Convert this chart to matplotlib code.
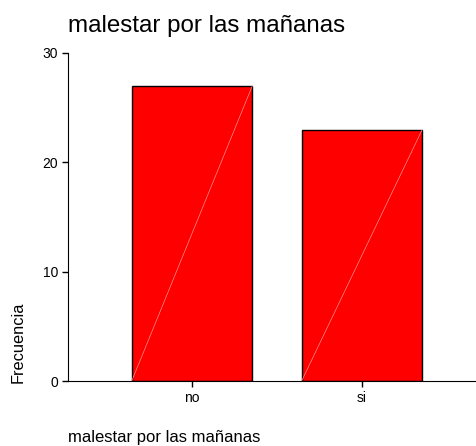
import numpy as np
import matplotlib.pyplot as plt

plt.rcParams['font.family'] = ['Liberation Sans', 'DejaVu Sans']

categories = ['no', 'si']
counts = [27, 23]
yticks = [0, 10, 20, 30]

fig = plt.figure(figsize=(4.76, 4.46), dpi=100)
ax = fig.add_axes([0.1429, 0.1457, 0.878, 0.7355])

x = np.arange(1, len(categories) + 1)
bars = ax.bar(x, counts, width=0.71, color='#ff0000', edgecolor='black', linewidth=1.0)

# thin light diagonal in each bar (SPSS style)
for b in bars:
    x0, w, h = b.get_x(), b.get_width(), b.get_height()
    ax.plot([x0, x0 + w], [0, h], color='#ff9090', linewidth=0.5)

ax.set_xlim(0.27, 2.73)
ax.set_ylim(0, 30)
ax.set_xticks(x)
ax.set_xticklabels(categories)
ax.set_yticks(yticks)
ax.tick_params(labelsize=10, length=4, width=1, pad=3)
ax.spines['top'].set_visible(False)
ax.spines['right'].set_visible(False)

fig.text(0.1429, 0.928, 'malestar por las mañanas', fontsize=17.4, ha='left', va='baseline')
fig.text(0.039, 0.141, 'Frecuencia', fontsize=11.8, rotation=90, ha='center', va='bottom')
fig.text(0.1429, 0.008, 'malestar por las mañanas', fontsize=12, ha='left', va='baseline')

fig.savefig('out.png', dpi=100)
